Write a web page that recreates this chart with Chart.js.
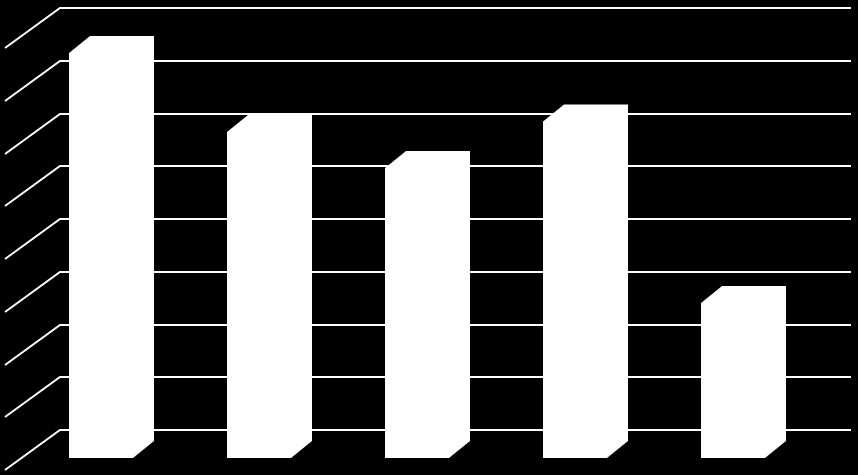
<!DOCTYPE html>
<html>
<head>
<meta charset="utf-8">
<style>
  html, body { margin: 0; padding: 0; background: #000; }
  #wrap { width: 858px; height: 475px; }
</style>
<script src="https://cdn.jsdelivr.net/npm/chart.js@4"></script>
</head>
<body>
<div id="wrap"><canvas id="myChart" width="858" height="475"></canvas></div>
<script>
// valores (no hay etiquetas visibles)
const categories = ["1", "2", "3", "4", "5"];
const values = [7.68, 6.18, 5.5, 6.38, 2.94];
const yTicks = [0, 1, 2, 3, 4, 5, 6, 7, 8];

// profundidad de la barra y desplazamiento de la pared del fondo
const DEPTH_X = 21, DEPTH_Y = 17;
const WALL_X = 38, WALL_Y = 28;
const FLOOR_X = 55, FLOOR_Y = 40;

const fake3d = {
    id: "fake3d",
    beforeDraw(chart) {
        const c = chart.ctx;
        c.save();
        c.fillStyle = "#000";
        c.fillRect(0, 0, chart.width, chart.height);
        c.restore();
    },
    beforeDatasetsDraw(chart) {
        const c = chart.ctx;
        const y = chart.scales.y;
        const area = chart.chartArea;
        c.save();
        c.strokeStyle = "#fff";
        c.lineWidth = 2;
        yTicks.forEach(function (t) {
            const py = Math.round(y.getPixelForValue(t)) - WALL_Y;
            const x0 = Math.round(area.left) + WALL_X;
            c.beginPath();
            c.moveTo(x0 - FLOOR_X, py + FLOOR_Y);
            c.lineTo(x0, py);
            c.lineTo(Math.round(area.right) + WALL_X + 1, py);
            c.stroke();
        });
        c.restore();
    },
    afterDatasetsDraw(chart) {
        const c = chart.ctx;
        c.save();
        c.fillStyle = "#fff";
        chart.getDatasetMeta(0).data.forEach(function (bar) {
            const p = bar.getProps(["x", "y", "base", "width"], true);
            const l = p.x - p.width / 2, r = p.x + p.width / 2;
            c.beginPath();
            c.moveTo(l, p.y);
            c.lineTo(l + DEPTH_X, p.y - DEPTH_Y);
            c.lineTo(r + DEPTH_X, p.y - DEPTH_Y);
            c.lineTo(r + DEPTH_X, p.base - DEPTH_Y);
            c.lineTo(r, p.base);
            c.closePath();
            c.fill();
        });
        c.restore();
    }
};

const ctx = document.getElementById("myChart").getContext("2d");
new Chart(ctx, {
    type: "bar",
    data: {
        labels: categories,
        datasets: [
            {
                data: values,
                backgroundColor: "#fff",
                borderWidth: 0,
                barPercentage: 0.81,
                categoryPercentage: 0.5,
            },
        ],
    },
    options: {
        responsive: false,
        animation: false,
        devicePixelRatio: 1,
        layout: { padding: { left: 22, right: 46, top: 36, bottom: 17 } },
        scales: {
            x: { display: false },
            y: { display: false, min: 0, max: 8 },
        },
        plugins: {
            legend: { display: false },
            tooltip: { enabled: false },
        },
    },
    plugins: [fake3d],
});
</script>
</body>
</html>
